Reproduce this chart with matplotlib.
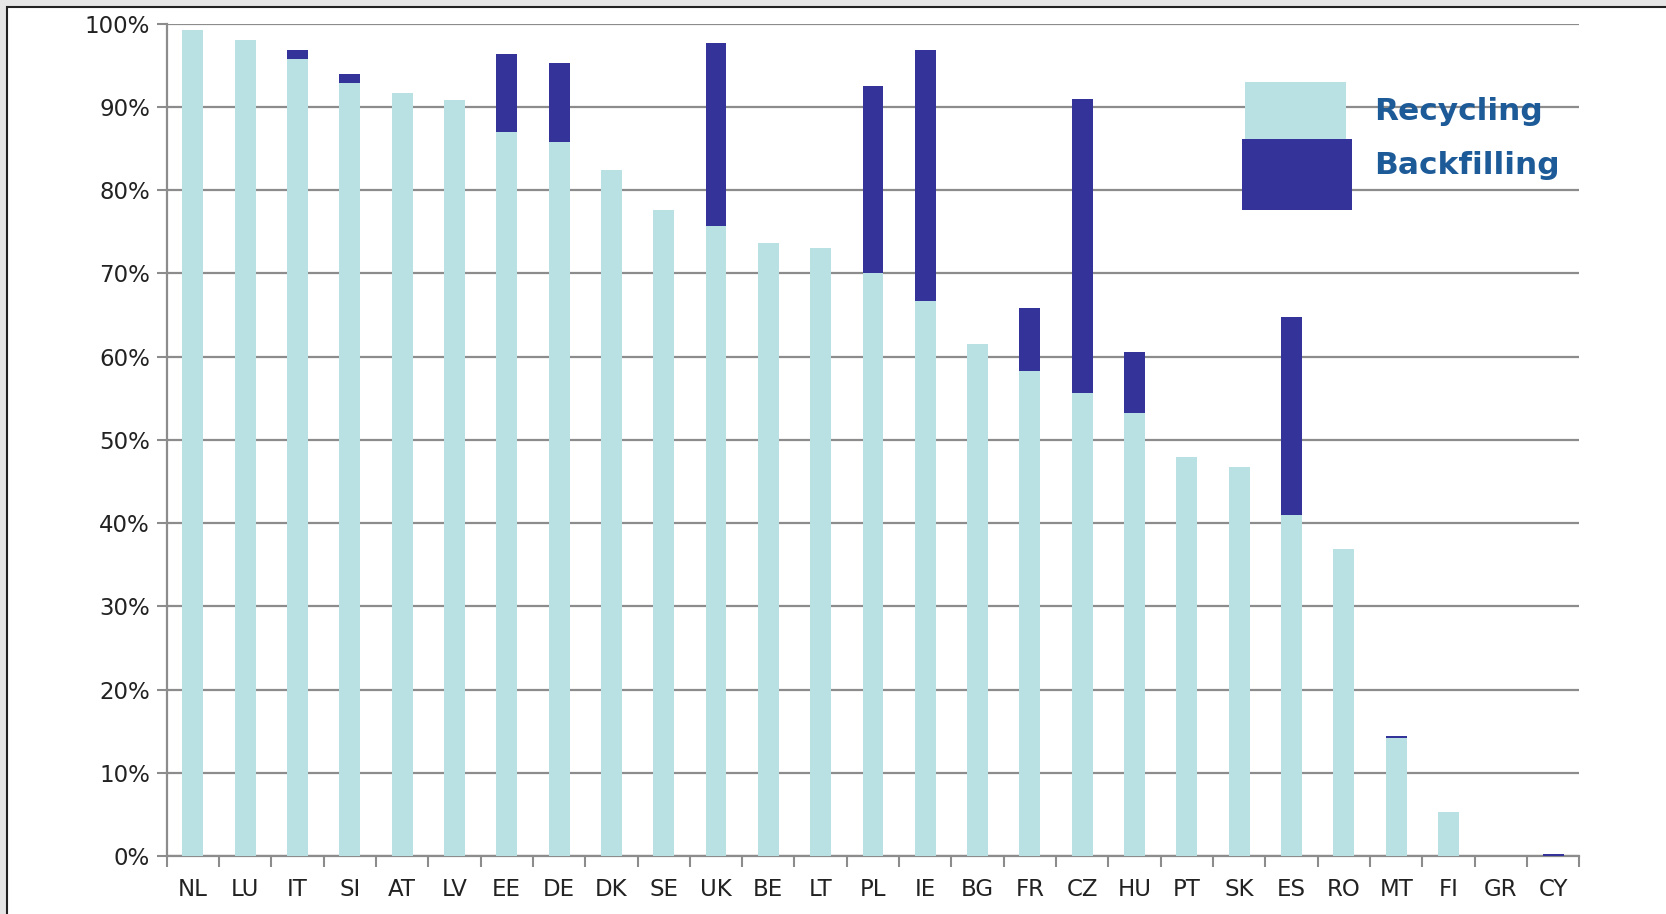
import numpy as np
import matplotlib
matplotlib.use("Agg")
import matplotlib.pyplot as plt
from matplotlib.patches import Rectangle
from matplotlib.ticker import PercentFormatter

countries = ["NL", "LU", "IT", "SI", "AT", "LV", "EE", "DE", "DK", "SE", "UK", "BE", "LT",
             "PL", "IE", "BG", "FR", "CZ", "HU", "PT", "SK", "ES", "RO", "MT", "FI", "GR", "CY"]
recycling = [99.3, 98.0, 95.8, 92.9, 91.7, 90.8, 87.0, 85.8, 82.4, 77.6, 75.7, 73.6, 73.1,
             70.0, 66.7, 61.5, 58.3, 55.6, 53.2, 47.9, 46.7, 41.0, 36.9, 14.2, 5.3, 0.0, 0.0]
backfilling = [0.0, 0.0, 1.1, 1.1, 0.0, 0.0, 9.4, 9.5, 0.0, 0.0, 22.0, 0.0, 0.0,
               22.5, 30.1, 0.0, 7.5, 35.3, 7.4, 0.0, 0.0, 23.8, 0.0, 0.2, 0.0, 0.0, 0.2]

light = "#b9e0e3"
dark = "#333399"
grid_col = "#8c8c8c"
text_col = "#1d5a98"

fig = plt.figure(figsize=(16.66, 9.14), dpi=100, facecolor="#e6e6e6")
# white panel with black frame on left/top
fig.patches.append(Rectangle((7 / 1666, -0.01), 1.0, 1 - 7 / 914 + 0.01, transform=fig.transFigure,
                             facecolor="white", edgecolor="#222222", linewidth=1.5, zorder=-10))

ax = fig.add_axes([0.1, 0.0635, 0.848, 0.9105])
ax.set_facecolor("none")

x = np.arange(len(countries))
ax.bar(x, recycling, width=0.4, color=light, zorder=3)
ax.bar(x, backfilling, width=0.4, bottom=recycling, color=dark, zorder=3)

ax.set_xlim(-0.5, len(countries) - 0.5)
ax.set_ylim(0, 100)
ax.set_yticks(np.arange(0, 101, 10))
ax.yaxis.set_major_formatter(PercentFormatter(decimals=0))
ax.yaxis.grid(True, color=grid_col, linewidth=1.6, zorder=1)

# category labels centred, tick marks between categories
ax.set_xticks(x)
ax.set_xticklabels(countries)
ax.set_xticks(np.arange(-0.5, len(countries)), minor=True)
ax.tick_params(axis="x", which="major", length=0, pad=16, labelsize=16.5, labelcolor="#222222")
ax.tick_params(axis="x", which="minor", length=8, width=1.5, color=grid_col)
ax.tick_params(axis="y", length=7, width=1.5, color=grid_col, labelsize=16.5, labelcolor="#222222", pad=5)

for s in ["top", "right"]:
    ax.spines[s].set_visible(False)
for s in ["left", "bottom"]:
    ax.spines[s].set_color(grid_col)
    ax.spines[s].set_linewidth(1.6)
ax.set_axisbelow(True)

# legend drawn as boxes and text in figure pixels
W, H = 1666, 914
fig.patches.append(Rectangle((1245 / W, 1 - 139 / H), 101 / W, 57 / H, transform=fig.transFigure,
                             facecolor=light, edgecolor="none", zorder=5))
fig.patches.append(Rectangle((1242 / W, 1 - 210 / H), 110 / W, 71 / H, transform=fig.transFigure,
                             facecolor=dark, edgecolor="none", zorder=5))
fig.text(1374 / W, 1 - 112 / H, "Recycling", fontsize=22.5, fontweight="bold", color=text_col,
         va="center", ha="left")
fig.text(1374 / W, 1 - 165 / H, "Backfilling", fontsize=22.5, fontweight="bold", color=text_col,
         va="center", ha="left")

plt.savefig("out.png", dpi=100, facecolor=fig.get_facecolor())
